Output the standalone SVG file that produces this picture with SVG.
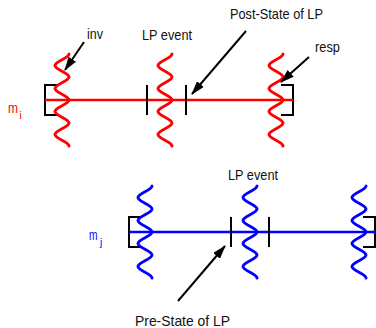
<svg xmlns="http://www.w3.org/2000/svg" xmlns:xlink="http://www.w3.org/1999/xlink" width="376" height="328" viewBox="0 0 376 328">
<style>
.lbl{font-family:"Liberation Sans",Arial,sans-serif;font-size:15px;fill:#111}
.red{stroke:#ff0000}
.blue{stroke:#0000ff}
.wave{fill:none;stroke-width:3;stroke-linecap:round}
.axis{fill:none;stroke-width:2.6}
.blk{fill:none;stroke:#000;stroke-width:2}
.arr{fill:none;stroke:#000;stroke-width:2}
</style>
<defs>
<path id="wave" d="M7,-46 C7,-41.8 -7,-38.7 -7,-34.5 S7,-27.2 7,-23 S-7,-15.7 -7,-11.5 S7,-4.2 7,0 S-7,7.3 -7,11.5 S7,18.8 7,23 S-7,30.3 -7,34.5 S7,41.8 7,46"/>
<marker id="ah" viewBox="0 0 14 9" refX="13" refY="4.5" markerWidth="14" markerHeight="9" markerUnits="userSpaceOnUse" orient="auto">
<path d="M0,0 L14,4.5 L0,9 Z" fill="#000"/>
</marker>
</defs>

<g id="process-mi">
<path class="blk" d="M59,85 H45 V115 H59"/>
<path class="blk" d="M281,85 H293 V115 H281"/>
<line class="axis red" x1="45" y1="100" x2="293" y2="100"/>
<text x="8" y="113" textLength="10" lengthAdjust="spacingAndGlyphs" style="font-family:'Liberation Sans',Arial,sans-serif;font-size:15px;fill:#ff0000">m</text>
<text x="19.5" y="119" style="font-family:'Liberation Sans',Arial,sans-serif;font-size:10px;fill:#ff0000">i</text>
</g>
<g id="mi-inv"><use xlink:href="#wave" href="#wave" class="wave red" transform="translate(62,100)"/></g>
<g id="mi-lp-event">
<line class="blk" x1="147" y1="85" x2="147" y2="115"/>
<line class="blk" x1="186" y1="85" x2="186" y2="115"/>
<use xlink:href="#wave" href="#wave" class="wave red" transform="translate(165,100)"/>
</g>
<g id="mi-resp"><use xlink:href="#wave" href="#wave" class="wave red" transform="translate(276,100)"/></g>

<g id="process-mj">
<path class="blk" d="M142,217 H129 V247 H142"/>
<path class="blk" d="M363,217 H375 V247 H363"/>
<line class="axis blue" x1="129" y1="232" x2="376" y2="232"/>
<text x="89" y="240" textLength="8.5" lengthAdjust="spacingAndGlyphs" style="font-family:'Liberation Sans',Arial,sans-serif;font-size:14px;fill:#0000ff">m</text>
<text x="100" y="246" style="font-family:'Liberation Sans',Arial,sans-serif;font-size:10px;fill:#0000ff">j</text>
</g>
<g id="mj-inv"><use xlink:href="#wave" href="#wave" class="wave blue" transform="translate(145,232)"/></g>
<g id="mj-lp-event">
<line class="blk" x1="231" y1="217" x2="231" y2="247"/>
<line class="blk" x1="269" y1="217" x2="269" y2="247"/>
<use xlink:href="#wave" href="#wave" class="wave blue" transform="translate(250,232)"/>
</g>
<g id="mj-resp"><use xlink:href="#wave" href="#wave" class="wave blue" transform="translate(359,232)"/></g>

<g id="labels">
<text class="lbl" x="87" y="39" textLength="16" lengthAdjust="spacingAndGlyphs">inv</text>
<text class="lbl" x="142" y="40" textLength="50" lengthAdjust="spacingAndGlyphs">LP event</text>
<text class="lbl" x="230" y="19" textLength="93" lengthAdjust="spacingAndGlyphs">Post-State of LP</text>
<text class="lbl" x="315" y="52" textLength="25" lengthAdjust="spacingAndGlyphs">resp</text>
<text class="lbl" x="228" y="180" textLength="50" lengthAdjust="spacingAndGlyphs">LP event</text>
<text class="lbl" x="135" y="326" textLength="95" lengthAdjust="spacingAndGlyphs">Pre-State of LP</text>
</g>

<g id="connectors">
<line class="arr" x1="84" y1="42" x2="65" y2="70" marker-end="url(#ah)"/>
<line class="arr" x1="246" y1="31" x2="192" y2="94" marker-end="url(#ah)"/>
<line class="arr" x1="309" y1="57" x2="281" y2="82" marker-end="url(#ah)"/>
<line class="arr" x1="178" y1="301" x2="225" y2="246" marker-end="url(#ah)"/>
</g>
</svg>
